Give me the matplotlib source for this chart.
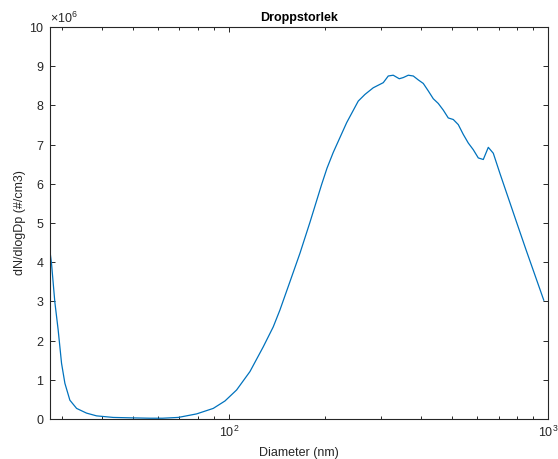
import numpy as np
import matplotlib.pyplot as plt
from matplotlib.ticker import ScalarFormatter, LogLocator, NullFormatter

# particle size distribution, diameter in nm, concentration in 1e6 #/cm3
diameter = [27.5, 27.8, 28.47, 29.17, 29.89, 30.62, 31.74, 33.32, 35.8, 38.48,
            43.38, 48.94, 56.55, 62.0, 69.4, 79.2, 89.3, 97.2, 105.7, 116.4,
            128.1, 137.7, 144.5, 155.3, 167.0, 179.5, 188.0, 195.2, 203.0, 212.3,
            233.9, 254.3, 266.9, 283.4, 304.6, 315.8, 327.3, 341.9, 351.9, 364.9,
            378.3, 392.2, 406.6, 421.5, 437.0, 453.0, 469.7, 486.9, 504.9, 523.4,
            542.6, 562.6, 583.2, 604.7, 626.9, 650.0, 673.8, 707.2, 750.8, 797.8,
            853.1, 970.0]
dN_millions = [4.27, 3.97, 2.99, 2.27, 1.42, 0.91, 0.48, 0.27, 0.15, 0.08,
               0.04, 0.03, 0.02, 0.02, 0.04, 0.13, 0.27, 0.46, 0.74, 1.21,
               1.84, 2.35, 2.78, 3.5, 4.23, 5.02, 5.55, 5.98, 6.4, 6.8,
               7.56, 8.11, 8.28, 8.45, 8.58, 8.75, 8.77, 8.68, 8.71, 8.77,
               8.75, 8.65, 8.56, 8.37, 8.17, 8.05, 7.88, 7.68, 7.64, 7.51,
               7.26, 7.04, 6.87, 6.66, 6.62, 6.93, 6.78, 6.26, 5.64, 5.01,
               4.32, 3.03]

plt.rcParams['font.family'] = ['Liberation Sans', 'DejaVu Sans']
plt.rcParams['mathtext.fontset'] = 'custom'
plt.rcParams['mathtext.rm'] = 'Liberation Sans'
plt.rcParams['mathtext.it'] = 'Liberation Sans:italic'

dark = (0.15, 0.15, 0.15)


def main():
    fig = plt.figure(figsize=(5.58, 4.59), dpi=100)
    ax = fig.add_axes([50 / 558, 1 - 419 / 459, 498 / 558, 392 / 459])

    d = np.array(diameter)
    n = np.array(dN_millions) * 1e6
    ax.plot(d, n, color='#0072BD', linewidth=0.9)

    ax.set_xscale('log')
    ax.set_xlim(diameter[0], 1000)
    ax.set_ylim(0, 1e7)
    ax.set_yticks(np.arange(0, 11) * 1e6)

    # fixed x10^6 exponent shown above the y axis
    fmt = ScalarFormatter(useMathText=True)
    fmt.set_powerlimits((6, 6))
    ax.yaxis.set_major_formatter(fmt)
    ax.yaxis.get_offset_text().set_fontsize(9)
    ax.yaxis.get_offset_text().set_color(dark)

    ax.xaxis.set_minor_locator(LogLocator(base=10, subs=np.arange(2, 10)))
    ax.xaxis.set_minor_formatter(NullFormatter())

    ax.tick_params(which='both', direction='in', top=True, right=True,
                   colors=dark, labelsize=9, width=0.7)
    ax.tick_params(which='major', length=3.6, pad=4)
    ax.tick_params(which='minor', length=2.2)
    for s in ax.spines.values():
        s.set_color(dark)
        s.set_linewidth(0.8)

    ax.set_xlabel('Diameter (nm)', fontsize=9, color=dark, labelpad=5)
    ax.set_ylabel('dN/dlogDp (#/cm3)', fontsize=9, color=dark, labelpad=2)
    ax.set_title('Droppstorlek', fontsize=9, fontweight='bold', pad=4)

    fig.savefig('out.png', dpi=100)


if __name__ == "__main__":
    main()
